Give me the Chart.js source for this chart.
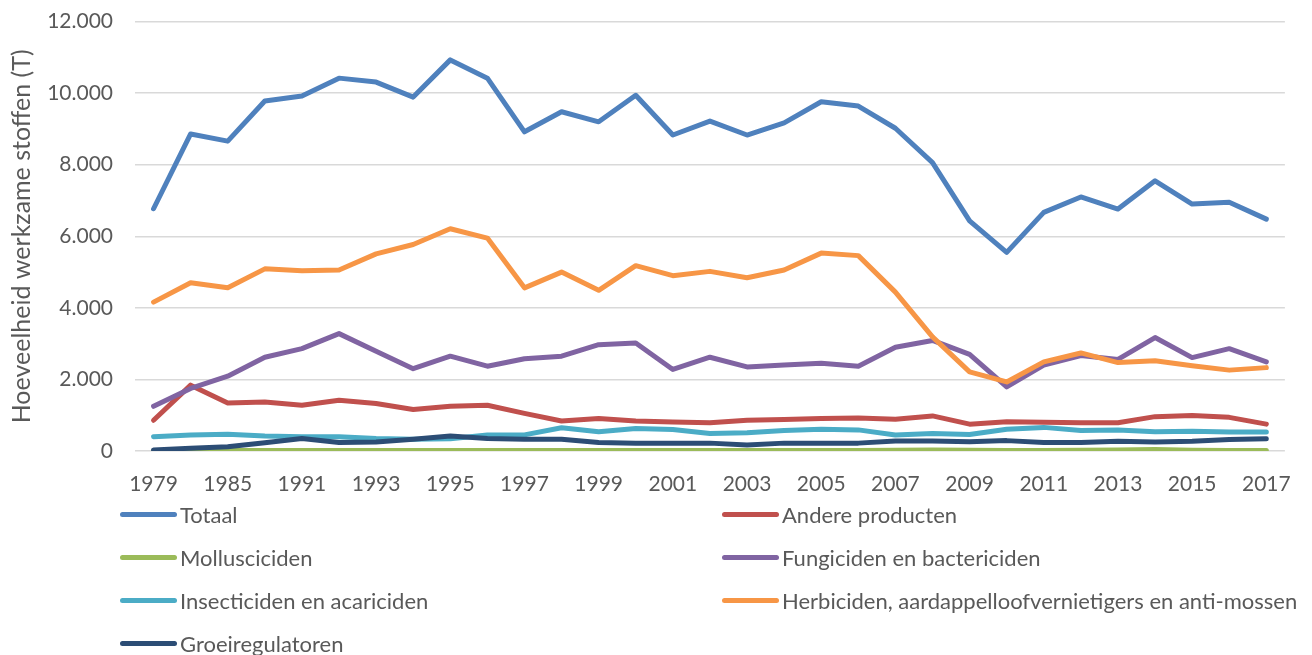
<!DOCTYPE html>
<html>
<head>
<meta charset="utf-8">
<script src="https://cdn.jsdelivr.net/npm/chart.js@4.4.1/dist/chart.umd.min.js"></script>
<style>
  body { margin: 0; background: #fff; font-family: Lato, sans-serif; overflow: hidden; }
  #wrap { position: relative; width: 1312px; height: 513px; margin-top: -13px; }
  #legend { position: absolute; left: 120px; top: 493px; width: 1192px;
            display: grid; grid-template-columns: 602px 590px; grid-auto-rows: 43px; }
  .item { display: flex; align-items: center; color: #595959; font-size: 22px; white-space: nowrap; }
  .swatch { width: 57px; height: 5px; border-radius: 3px; margin-right: 3px; flex: none; }
</style>
</head>
<body>
<div id="wrap"><canvas id="chart"></canvas></div>
<div id="legend"></div>
<script>
const years = ['1979', '1982', '1985', '1988', '1991', '1992', '1993', '1994', '1995', '1996',
  '1997', '1998', '1999', '2000', '2001', '2002', '2003', '2004', '2005', '2006',
  '2007', '2008', '2009', '2010', '2011', '2012', '2013', '2014', '2015', '2016', '2017'];

const totaal = [6770, 8860, 8660, 9780, 9920, 10420, 10310, 9890, 10930, 10420,
  8920, 9480, 9200, 9940, 8830, 9220, 8830, 9170, 9760, 9640,
  9020, 8060, 6430, 5550, 6670, 7100, 6760, 7550, 6900, 6950, 6480];
const andere = [860, 1840, 1340, 1370, 1280, 1420, 1330, 1160, 1250, 1280,
  1050, 840, 910, 840, 810, 790, 860, 880, 910, 920,
  890, 980, 750, 820, 800, 790, 790, 960, 990, 940, 750];
const mollusc = [10, 10, 15, 15, 15, 15, 15, 15, 15, 15,
  15, 15, 15, 15, 15, 15, 15, 15, 15, 15,
  20, 30, 20, 15, 15, 20, 25, 40, 20, 15, 15];
const fungi = [1250, 1750, 2090, 2620, 2860, 3280, 2790, 2300, 2650, 2370,
  2580, 2650, 2970, 3020, 2280, 2620, 2350, 2400, 2450, 2370,
  2900, 3090, 2700, 1790, 2400, 2670, 2560, 3170, 2610, 2860, 2490];
const insect = [400, 450, 470, 420, 400, 400, 350, 330, 340, 450,
  450, 650, 540, 630, 600, 490, 510, 570, 610, 590,
  450, 490, 460, 610, 660, 570, 590, 540, 550, 530, 530];
const herbi = [4160, 4700, 4560, 5090, 5040, 5060, 5510, 5770, 6210, 5950,
  4560, 5000, 4490, 5180, 4900, 5020, 4840, 5060, 5530, 5460,
  4440, 3190, 2210, 1930, 2490, 2740, 2470, 2520, 2380, 2260, 2330];
const groei = [30, 80, 120, 230, 350, 240, 250, 330, 420, 350,
  330, 330, 240, 220, 220, 220, 170, 220, 220, 220,
  280, 280, 260, 290, 240, 240, 270, 250, 270, 320, 340];

const seriesNames = ['Totaal', 'Andere producten', 'Mollusciciden', 'Fungiciden en bactericiden',
  'Insecticiden en acariciden', 'Herbiciden, aardappelloofvernietigers en anti-mossen', 'Groeiregulatoren'];
const seriesData = [totaal, andere, mollusc, fungi, insect, herbi, groei];
const seriesColors = ['#4F81BD', '#C0504D', '#9BBB59', '#8064A2', '#4BACC6', '#F79646', '#2C4D75'];

const textColor = '#595959';
const font = 'Lato';

const fmt = v => String(v).replace(/\B(?=(\d{3})+(?!\d))/g, '.');

// Excel draws the last series on top, so reverse Chart.js draw order
const datasets = seriesNames.map((name, i) => ({
  label: name,
  data: seriesData[i],
  borderColor: seriesColors[i],
  backgroundColor: seriesColors[i],
  borderWidth: 5,
  pointRadius: 0,
  tension: 0,
  borderCapStyle: 'round',
  borderJoinStyle: 'round',
  order: seriesNames.length - i
}));

new Chart(document.getElementById('chart'), {
  type: 'line',
  data: { labels: years, datasets },
  options: {
    responsive: true,
    maintainAspectRatio: false,
    animation: false,
    layout: { padding: { top: 8, right: 19, bottom: 0, left: 0 } },
    plugins: { legend: { display: false }, tooltip: { enabled: false } },
    scales: {
      x: {
        offset: true,
        grid: { display: false, drawTicks: false },
        border: { display: false },
        ticks: {
          autoSkip: false, maxRotation: 0, minRotation: 0, padding: 21,
          color: textColor, font: { family: font, size: 21 },
          callback: (v, i) => i % 2 === 0 ? years[i] : ''
        },
        afterFit: s => { s.height = 49; }
      },
      y: {
        min: 0, max: 12000,
        grid: { color: '#D9D9D9', lineWidth: 1.5, drawTicks: false },
        border: { display: false },
        ticks: {
          stepSize: 2000, padding: 22,
          color: textColor, font: { family: font, size: 21 },
          callback: v => fmt(v)
        },
        title: {
          display: true, text: 'Hoeveelheid werkzame stoffen (T)',
          color: textColor, font: { family: font, size: 25 },
          padding: { top: 7, bottom: 0 }
        },
        afterFit: s => { s.width = 135; }
      }
    }
  }
});

const legend = document.getElementById('legend');
seriesNames.forEach((name, i) => {
  const item = document.createElement('div');
  item.className = 'item';
  item.innerHTML = `<span class="swatch" style="background:${seriesColors[i]}"></span>${name}`;
  legend.appendChild(item);
});
</script>
</body>
</html>
